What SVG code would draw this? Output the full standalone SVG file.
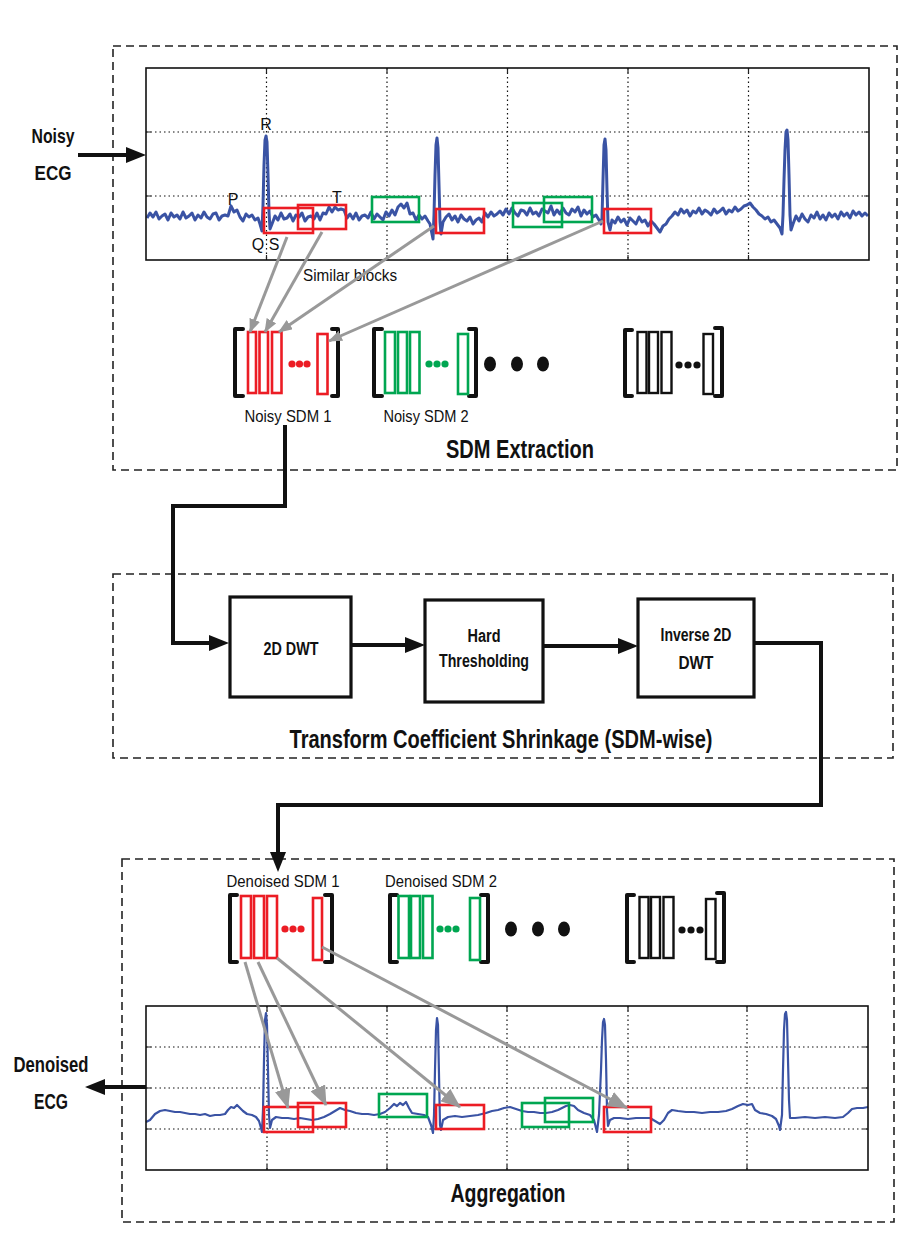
<svg xmlns="http://www.w3.org/2000/svg" width="915" height="1258" viewBox="0 0 915 1258">
<style>
.dash{fill:none;stroke:#222;stroke-width:1.6;stroke-dasharray:8,5}
.frame{fill:none;stroke:#111;stroke-width:1.6}
.grid{fill:none;stroke:#111;stroke-width:1.2;stroke-dasharray:1.5,3}
.tick{stroke:#222;stroke-width:1.2}
.sig{fill:none;stroke:#3a53a4;stroke-width:3;stroke-linejoin:round}
.sig2{fill:none;stroke:#3a53a4;stroke-width:2.2;stroke-linejoin:round}
.rb{fill:none;stroke:#ec1c24;stroke-width:2.6}
.gb{fill:none;stroke:#00a651;stroke-width:2.6}
.kb{fill:none;stroke:#111;stroke-width:2.4}
.br{fill:none;stroke:#111;stroke-width:4;stroke-linejoin:round;stroke-linecap:round}
.con{fill:none;stroke:#111;stroke-width:4}
.gar{fill:none;stroke:#999;stroke-width:3}
.box{fill:#fff;stroke:#111;stroke-width:3.2}
.t{font-family:"Liberation Sans Narrow","Liberation Sans",Arial,sans-serif;fill:#111}
.b{font-weight:bold}
.rd{fill:#ec1c24}.gd{fill:#00a651}.kd{fill:#111}
</style>
<defs>
<marker id="ab" markerUnits="userSpaceOnUse" markerWidth="20" markerHeight="16" refX="12" refY="8" orient="auto"><path d="M0,0 L20,8 L0,16 z" fill="#111"/></marker>
<marker id="ag" markerUnits="userSpaceOnUse" markerWidth="14" markerHeight="11" refX="13" refY="5.5" orient="auto"><path d="M0,0 L14,5.5 L0,11 z" fill="#999"/></marker>
<marker id="ag2" markerUnits="userSpaceOnUse" markerWidth="20" markerHeight="16" refX="19" refY="8" orient="auto"><path d="M0,0 L20,8 L0,16 z" fill="#999"/></marker>
</defs>

<!-- dashed stage boxes -->
<g id="stage-sdm-extraction">
<rect class="dash" x="113" y="46" width="784" height="424"/>
<text class="t b" x="520" y="458" font-size="26" text-anchor="middle" textLength="148" lengthAdjust="spacingAndGlyphs">SDM Extraction</text>
</g>
<g id="stage-shrinkage">
<rect class="dash" x="113" y="574" width="780" height="184"/>
<text class="t b" x="501" y="748" font-size="26" text-anchor="middle" textLength="423" lengthAdjust="spacingAndGlyphs">Transform Coefficient Shrinkage (SDM-wise)</text>
</g>
<g id="stage-aggregation">
<rect class="dash" x="122" y="859" width="772" height="363"/>
<text class="t b" x="508" y="1202" font-size="26" text-anchor="middle" textLength="115" lengthAdjust="spacingAndGlyphs">Aggregation</text>
</g>

<!-- noisy ECG plot -->
<g id="noisy-ecg-plot">
<rect x="146" y="68" width="723" height="192" fill="#fff"/>
<path class="grid" d="M266.5,68V260M387,68V260M507.5,68V260M628,68V260M748.5,68V260M146,132H869M146,196H869"/>
<path class="tick" d="M266.5,68v5M387,68v5M507.5,68v5M628,68v5M748.5,68v5M266.5,260v-5M387,260v-5M507.5,260v-5M628,260v-5M748.5,260v-5M146,132h5M146,196h5M869,132h-5M869,196h-5"/>
<polyline class="sig" points="147,218 150,213 153,217 156,212 159,219 162,216 165,214 168,220 171,213 174,217 177,215 180,219 183,212 186,218 189,216 192,213 195,220 198,215 201,218 204,212 207,217 210,219 213,214 216,213 219,220 222,216 225,215 228,216 231,206 234,212 237,210 240,217 243,221 246,214 249,217 252,215 255,220 258,218 260,224 262,231 263,205 264,165 265,140 266,136 267,142 268,175 269,212 270,229 272,224 275,216 278,220 281,213 284,219 287,218 290,214 293,221 296,215 299,217 302,213 305,221 308,217 311,216 314,219 317,213 320,220 323,213 326,214 329,207 332,212 335,207 338,210 341,209 344,210 347,218 350,214 353,219 356,213 359,220 362,216 365,215 368,218 371,212 374,219 377,214 380,217 383,220 386,212 389,216 392,210 395,215 398,207 401,204 404,208 407,203 410,214 413,213 416,220 419,215 422,219 425,216 428,221 430,224 432,234 433,239 434,215 435,175 436,145 437,138 438,148 439,185 440,222 441,234 443,222 446,217 449,214 452,220 455,216 458,222 461,215 464,219 467,221 470,217 473,224 476,220 479,218 482,222 485,213 488,217 491,212 494,216 497,214 500,211 503,215 506,209 509,214 512,208 515,213 518,216 521,210 524,211 527,215 530,208 533,214 536,212 539,216 542,209 545,211 548,213 551,206 554,215 557,210 560,214 563,208 566,213 569,215 572,209 575,212 578,207 581,216 584,210 587,214 590,211 593,217 596,215 599,220 601,224 602,218 603,180 604,145 605,139 606,150 607,190 608,222 610,230 612,220 615,223 618,217 621,222 624,219 627,225 630,218 633,221 636,224 639,217 642,222 645,220 648,226 651,221 654,224 657,228 660,232 663,226 666,224 669,219 672,216 675,212 678,215 681,209 684,213 687,210 690,216 693,211 696,213 699,208 702,214 705,210 708,212 711,215 714,209 717,213 720,211 723,208 726,214 729,210 732,212 735,207 738,211 741,209 744,206 747,205 750,203 753,207 756,210 759,214 762,216 765,219 768,217 771,222 774,220 777,224 780,228 782,234 783,215 784,180 785,150 786,132 787,130 788,140 789,175 790,215 791,230 793,224 796,216 799,221 802,214 805,219 808,222 811,215 814,218 817,212 820,219 823,215 826,220 829,213 832,217 835,214 838,219 841,212 844,216 847,213 850,218 853,211 856,215 859,212 862,216 865,213 868,216"/>
<rect class="frame" x="146" y="68" width="723" height="192"/>
<rect class="rb" x="264" y="208" width="49" height="25"/>
<rect class="rb" x="298" y="205" width="48" height="24"/>
<rect class="gb" x="372" y="197" width="47" height="25"/>
<rect class="rb" x="436" y="209" width="48" height="24"/>
<rect class="gb" x="513" y="203" width="49" height="24"/>
<rect class="gb" x="544" y="197" width="48" height="25"/>
<rect class="rb" x="604" y="209" width="47" height="24"/>
<text class="t" x="266" y="130" font-size="16" text-anchor="middle">R</text>
<text class="t" x="233" y="205" font-size="16" text-anchor="middle">P</text>
<text class="t" x="337" y="203" font-size="16" text-anchor="middle">T</text>
<text class="t" x="258" y="250" font-size="16" text-anchor="middle">Q</text>
<text class="t" x="274" y="250" font-size="16" text-anchor="middle">S</text>
</g>
<text id="lbl-similar" class="t" x="350" y="281" font-size="17" text-anchor="middle" textLength="94" lengthAdjust="spacingAndGlyphs">Similar blocks</text>

<!-- input label -->
<g id="noisy-ecg-label">
<text class="t b" x="53" y="143" font-size="21" text-anchor="middle" textLength="43" lengthAdjust="spacingAndGlyphs">Noisy</text>
<text class="t b" x="53" y="180" font-size="21" text-anchor="middle" textLength="37" lengthAdjust="spacingAndGlyphs">ECG</text>
</g>

<!-- noisy SDMs -->
<g id="noisy-sdm-1">
<path class="br" d="M243,329H235V396H243M332,329H338V396H332"/>
<rect class="rb" x="248" y="332" width="8" height="61"/>
<rect class="rb" x="259.5" y="332" width="8.5" height="61"/>
<rect class="rb" x="272" y="332" width="9.5" height="61"/>
<circle class="rd" cx="292" cy="364" r="3.6"/><circle class="rd" cx="299.5" cy="364" r="3.6"/><circle class="rd" cx="307" cy="364" r="3.6"/>
<rect class="rb" x="317.5" y="334" width="10" height="60"/>
<text class="t" x="288" y="422" font-size="17" text-anchor="middle" textLength="87" lengthAdjust="spacingAndGlyphs">Noisy SDM 1</text>
</g>
<g id="noisy-sdm-2">
<path class="br" d="M382,329H374V396H382M469,329H476V396H469"/>
<rect class="gb" x="385" y="332" width="10" height="61"/>
<rect class="gb" x="398" y="332" width="9" height="61"/>
<rect class="gb" x="410" y="332" width="9.5" height="61"/>
<circle class="gd" cx="429" cy="364" r="3.6"/><circle class="gd" cx="437" cy="364" r="3.6"/><circle class="gd" cx="445" cy="364" r="3.6"/>
<rect class="gb" x="458" y="334" width="10" height="60"/>
<text class="t" x="426" y="422" font-size="17" text-anchor="middle" textLength="85" lengthAdjust="spacingAndGlyphs">Noisy SDM 2</text>
</g>
<g id="noisy-ellipsis">
<ellipse class="kd" cx="490" cy="364" rx="6" ry="7.5"/><ellipse class="kd" cx="517" cy="364" rx="6" ry="7.5"/><ellipse class="kd" cx="543" cy="364" rx="6" ry="7.5"/>
</g>
<g id="noisy-sdm-n">
<path class="br" d="M632,330H625V396H632M715,328H722V396H715"/>
<rect class="kb" x="637.5" y="332" width="9" height="61"/>
<rect class="kb" x="649" y="332" width="9" height="61"/>
<rect class="kb" x="661.5" y="332" width="10" height="61"/>
<circle class="kd" cx="679" cy="365" r="3.6"/><circle class="kd" cx="688" cy="365" r="3.6"/><circle class="kd" cx="697" cy="365" r="3.6"/>
<rect class="kb" x="703.5" y="334" width="9.5" height="60"/>
</g>

<!-- shrinkage blocks -->
<g id="node-2d-dwt">
<rect class="box" x="230" y="597" width="121" height="100"/>
<text class="t b" x="291" y="655" font-size="18" text-anchor="middle" textLength="55" lengthAdjust="spacingAndGlyphs">2D DWT</text>
</g>
<g id="node-hard-thresholding">
<rect class="box" x="425" y="600" width="118" height="102"/>
<text class="t b" x="484" y="642" font-size="18" text-anchor="middle" textLength="33" lengthAdjust="spacingAndGlyphs">Hard</text>
<text class="t b" x="484" y="667" font-size="18" text-anchor="middle" textLength="90" lengthAdjust="spacingAndGlyphs">Thresholding</text>
</g>
<g id="node-inverse-2d-dwt">
<rect class="box" x="638" y="599" width="116" height="98"/>
<text class="t b" x="696" y="641" font-size="18" text-anchor="middle" textLength="71" lengthAdjust="spacingAndGlyphs">Inverse 2D</text>
<text class="t b" x="696" y="669" font-size="18" text-anchor="middle" textLength="35" lengthAdjust="spacingAndGlyphs">DWT</text>
</g>

<!-- denoised SDMs -->
<g id="denoised-sdm-1">
<path class="br" d="M237,895H230V962H237M325,895H332V962H325"/>
<rect class="rb" x="241" y="896" width="10" height="62"/>
<rect class="rb" x="254" y="896" width="10" height="62"/>
<rect class="rb" x="267" y="896" width="10" height="62"/>
<circle class="rd" cx="285" cy="929" r="3.6"/><circle class="rd" cx="293" cy="929" r="3.6"/><circle class="rd" cx="301" cy="929" r="3.6"/>
<rect class="rb" x="313" y="898" width="9" height="62"/>
<text class="t" x="283" y="887" font-size="17" text-anchor="middle" textLength="113" lengthAdjust="spacingAndGlyphs">Denoised SDM 1</text>
</g>
<g id="denoised-sdm-2">
<path class="br" d="M397,895H390V962H397M481,895H488V962H481"/>
<rect class="gb" x="398.5" y="896" width="10.5" height="62"/>
<rect class="gb" x="411" y="896" width="9" height="62"/>
<rect class="gb" x="423" y="896" width="9.5" height="62"/>
<circle class="gd" cx="440" cy="929" r="3.6"/><circle class="gd" cx="448" cy="929" r="3.6"/><circle class="gd" cx="456" cy="929" r="3.6"/>
<rect class="gb" x="470" y="898" width="10" height="62"/>
<text class="t" x="441" y="887" font-size="17" text-anchor="middle" textLength="112" lengthAdjust="spacingAndGlyphs">Denoised SDM 2</text>
</g>
<g id="denoised-ellipsis">
<ellipse class="kd" cx="511" cy="929" rx="6" ry="7.5"/><ellipse class="kd" cx="538" cy="929" rx="6" ry="7.5"/><ellipse class="kd" cx="564" cy="929" rx="6" ry="7.5"/>
</g>
<g id="denoised-sdm-n">
<path class="br" d="M634,895H627V962H634M717,893H724V962H717"/>
<rect class="kb" x="639.5" y="897" width="9" height="61"/>
<rect class="kb" x="651" y="897" width="9" height="61"/>
<rect class="kb" x="663.5" y="897" width="10" height="61"/>
<circle class="kd" cx="682" cy="930" r="3.6"/><circle class="kd" cx="691" cy="930" r="3.6"/><circle class="kd" cx="700" cy="930" r="3.6"/>
<rect class="kb" x="706" y="899" width="9.5" height="60"/>
</g>

<!-- denoised ECG plot -->
<g id="denoised-ecg-plot">
<rect x="146" y="1006" width="722" height="164" fill="#fff"/>
<path class="grid" d="M267,1006V1170M387,1006V1170M507,1006V1170M628,1006V1170M747,1006V1170M146,1047H868M146,1088H868M146,1129H868"/>
<path class="tick" d="M267,1006v5M387,1006v5M507,1006v5M628,1006v5M747,1006v5M267,1170v-5M387,1170v-5M507,1170v-5M628,1170v-5M747,1170v-5M146,1047h5M146,1088h5M146,1129h5M868,1047h-5M868,1088h-5M868,1129h-5"/>
<polyline class="sig2" points="146,1122 150,1120 155,1114 160,1111 165,1110 170,1111 175,1112 180,1112 185,1113 190,1114 195,1114 200,1115 205,1114 210,1116 215,1115 220,1115 225,1114 228,1110 231,1107 234,1108 237,1105 240,1108 243,1111 247,1114 252,1115 256,1117 259,1121 261,1128 262,1132 263,1110 264,1060 265,1020 266,1013 267,1025 268,1070 269,1115 270,1128 272,1120 276,1117 282,1118 288,1118 294,1119 300,1118 306,1119 312,1120 318,1119 324,1117 330,1114 335,1111 340,1108 345,1110 350,1111 356,1113 362,1114 368,1114 374,1115 380,1114 385,1112 390,1108 394,1104 397,1106 400,1103 403,1105 406,1102 409,1108 412,1113 418,1114 424,1115 428,1117 431,1125 433,1133 434,1115 435,1070 436,1030 437,1018 438,1025 439,1075 440,1125 441,1130 443,1120 448,1117 455,1116 462,1117 470,1116 478,1115 486,1113 492,1111 498,1110 504,1108 510,1107 516,1109 522,1111 528,1112 534,1112 540,1113 546,1113 552,1112 558,1110 562,1108 566,1106 570,1105 574,1106 578,1110 584,1113 590,1115 594,1120 596,1128 597,1132 599,1115 601,1070 602,1040 603,1022 604,1019 605,1025 606,1060 607,1110 608,1126 610,1120 614,1118 620,1118 628,1119 636,1118 644,1118 650,1118 655,1121 660,1124 664,1120 668,1113 672,1110 678,1111 686,1112 694,1112 702,1113 710,1112 718,1112 726,1111 732,1109 738,1106 743,1104 748,1105 752,1104 755,1110 760,1113 766,1114 772,1116 776,1119 779,1126 780,1130 782,1115 783,1070 784,1030 785,1014 786,1012 787,1020 788,1060 789,1100 790,1118 795,1118 805,1117 815,1118 825,1117 835,1118 843,1117 848,1113 852,1109 857,1108 863,1108 868,1107"/>
<rect class="frame" x="146" y="1006" width="722" height="164"/>
<rect class="rb" x="264" y="1107" width="49" height="25"/>
<rect class="rb" x="298" y="1103" width="48" height="24"/>
<rect class="gb" x="379" y="1094" width="48" height="23"/>
<rect class="rb" x="436" y="1105" width="48" height="24"/>
<rect class="gb" x="522" y="1103" width="47" height="24"/>
<rect class="gb" x="545" y="1098" width="48" height="24"/>
<rect class="rb" x="604" y="1107" width="47" height="25"/>
</g>

<g id="denoised-ecg-label">
<text class="t b" x="51" y="1072" font-size="22" text-anchor="middle" textLength="75" lengthAdjust="spacingAndGlyphs">Denoised</text>
<text class="t b" x="51" y="1109" font-size="22" text-anchor="middle" textLength="34" lengthAdjust="spacingAndGlyphs">ECG</text>
</g>

<!-- connectors -->
<g id="connectors">
<path class="con" stroke-width="5" d="M78,155H138" marker-end="url(#ab)"/>
<path class="con" d="M285,425V506H173V643H221" marker-end="url(#ab)"/>
<path class="con" d="M351,645H417" marker-end="url(#ab)"/>
<path class="con" d="M543,646H630" marker-end="url(#ab)"/>
<path class="con" d="M754,643H821V805H278V864" marker-end="url(#ab)"/>
<path class="con" stroke-width="5" d="M146,1087H93" marker-end="url(#ab)"/>
<path class="gar" d="M287,237L250,332" marker-end="url(#ag)"/>
<path class="gar" d="M322,232L265,332" marker-end="url(#ag)"/>
<path class="gar" d="M434,226L279,332" marker-end="url(#ag)"/>
<path class="gar" d="M603,221L329,341" marker-end="url(#ag)"/>
<path class="gar" d="M245,962L288,1108" marker-end="url(#ag2)"/>
<path class="gar" d="M258,962L326,1105" marker-end="url(#ag2)"/>
<path class="gar" d="M277,958L460,1107" marker-end="url(#ag2)"/>
<path class="gar" d="M322,947L627,1108" marker-end="url(#ag2)"/>
</g>
</svg>
